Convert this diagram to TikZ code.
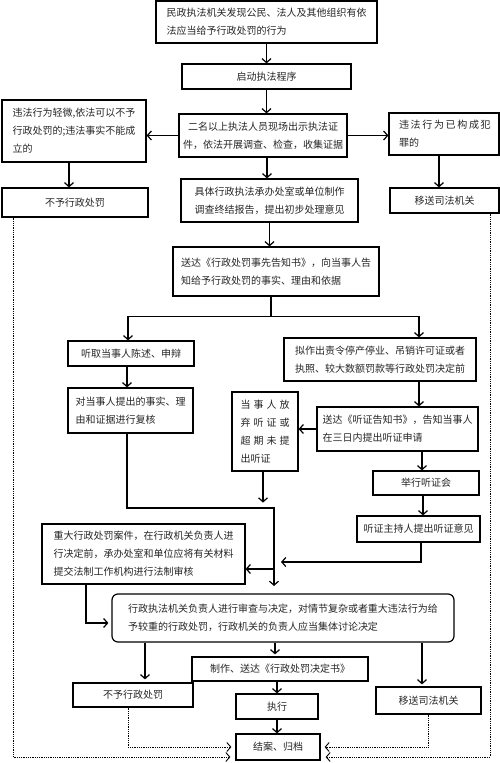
\documentclass[tikz,border=0pt]{standalone}
\usepackage{fontspec}
\setmainfont{Noto Sans CJK SC}
\usetikzlibrary{arrows.meta,calc}
\newcommand{\gx}{\hspace{3pt}}
\begin{document}
\begin{tikzpicture}[x=1pt,y=-1pt,
  box/.style={draw, line width=1.2pt, inner sep=0pt, align=left,
    font=\fontsize{10}{18}\selectfont, text=black!85},
  arr/.style={line width=1.2pt, -{Straight Barb[length=4pt,width=9pt]}},
  ln/.style={line width=1.2pt},
  dot/.style={line width=0.9pt, dash pattern=on 0.9pt off 0.9pt,
    -{Straight Barb[length=4pt,width=9pt]}}]
\useasboundingbox (0,0) rectangle (500,763);
\fill[white] (0,0) rectangle (500,763);

\node[box, minimum width=221pt, minimum height=42pt] (b1) at (266.5,22)
  {民政执法机关发现公民、法人及其他组织有依\\法应当给予行政处罚的行为};
\node[box, minimum width=169pt, minimum height=25pt] (b2) at (266.5,76.5) {启动执法程序};
\node[box, minimum width=168pt, minimum height=43pt, align=center] (b3) at (263,135.5)
  {二名以上执法人员现场出示执法证\\件，依法开展调查、检查，收集证据};
\node[box, minimum width=144pt, minimum height=62pt] (bL) at (74,131)
  {违法行为轻微,依法可以不予\\行政处罚的;违法事实不能成\\立的};
\node[box, minimum width=110pt, minimum height=42pt, text width=90pt] (bR) at (444,134)
  {违\,法\,行\,为\,已\,构\,成\,犯\\罪的};
\node[box, minimum width=146pt, minimum height=29pt] (bL2) at (75,202.5) {不予行政处罚};
\node[box, minimum width=109pt, minimum height=25pt] (bR2) at (444.5,200.5) {移送司法机关};
\node[box, minimum width=177pt, minimum height=43pt, align=center] (b4) at (269.5,200.5)
  {具体行政执法承办处室或单位制作\\调查终结报告，提出初步处理意见};
\node[box, minimum width=206pt, minimum height=49pt] (b5) at (276,271.5)
  {送达《行政处罚事先告知书》，向当事人告\\知给予行政处罚的事实、理由和依据};
\node[box, minimum width=126pt, minimum height=25pt] (b6) at (131,353.5) {听取当事人陈述、申辩};
\node[box, minimum width=192pt, minimum height=43pt] (b7) at (380,359.5)
  {拟作出责令停产停业、吊销许可证或者\\执照、较大数额罚款等行政处罚决定前};
\node[box, minimum width=125pt, minimum height=45pt] (b8) at (130.5,410.5)
  {对当事人提出的事实、理\\由和证据进行复核};
\node[box, minimum width=161pt, minimum height=44pt] (b9) at (397.5,429)
  {送达《听证告知书》，告知当事人\\在三日内提出听证申请};
\node[box, minimum width=66pt, minimum height=79pt] (b10) at (265,431.5)
  {当\gx 事\gx 人\gx 放\\弃\gx 听\gx 证\gx 或\\超\gx 期\gx 未\gx 提\\出听证};
\node[box, minimum width=106pt, minimum height=24pt] (b11) at (426,483) {举行听证会};
\node[box, minimum width=123pt, minimum height=26pt] (b12) at (418.5,529) {听证主持人提出听证意见};
\node[box, minimum width=203pt, minimum height=60pt] (b13) at (143.5,554)
  {重大行政处罚案件，在行政机关负责人进\\行决定前，承办处室和单位应将有关材料\\提交法制工作机构进行法制审核};
\node[box, rounded corners=6pt, minimum width=342pt, minimum height=48pt] (b14) at (283,618)
  {行政执法机关负责人进行审查与决定，对情节复杂或者重大违法行为给\\予较重的行政处罚，行政机关的负责人应当集体讨论决定};
\node[box, minimum width=176pt, minimum height=24pt] (b15) at (280,669) {制作、送达《行政处罚决定书》};
\node[box, minimum width=120pt, minimum height=24pt] (b16) at (133,695) {不予行政处罚};
\node[box, minimum width=105pt, minimum height=27pt] (b17) at (428.5,700.5) {移送司法机关};
\node[box, minimum width=82pt, minimum height=25pt] (b18) at (277,706.5) {执行};
\node[box, minimum width=84pt, minimum height=26pt] (b19) at (278,747) {结案、归档};

% connectors
\draw[arr] (b1.south) -- (b2.north);
\draw[arr] (b2.south) -- (b2.south |- b3.north);
\draw[arr] (b3.west) -- (b3.west -| bL.east);
\draw[arr] (b3.east) -- (b3.east -| bR.west);
\coordinate (pL) at ([xshift=-5pt]bL.south);
\draw[arr] (pL) -- (pL |- bL2.north);
\coordinate (pR) at ([xshift=-5pt]bR.south);
\draw[arr] (pR) -- (pR |- bR2.north);
\coordinate (p3) at ([xshift=4pt]b3.south);
\draw[arr] (p3) -- (p3 |- b4.north);
\draw[arr] (b4.south) -- (b4.south |- b5.north);
\coordinate (p5) at ([xshift=-5pt]b5.south);
\coordinate (split) at ([yshift=-20pt]p5);
\draw[ln] (p5) -- (split);
\coordinate (t6) at ([xshift=-3pt]b6.north);
\draw[arr] (split) -| (t6);
\coordinate (t7) at ([xshift=39pt]b7.north);
\draw[arr] (split) -| (t7);
\coordinate (p6) at ([xshift=-4pt]b6.south);
\draw[arr] (p6) -- (p6 |- b8.north);
\coordinate (p7) at ([xshift=39pt]b7.south);
\draw[arr] (p7) -- (p7 |- b9.north);
\draw[arr] (b9.west) -- (b9.west -| b10.east);
\coordinate (p9) at ([xshift=24.5pt]b9.south);
\draw[arr] (p9) -- (p9 |- b11.north);
\coordinate (p11) at ([xshift=-3pt]b11.south);
\draw[arr] (p11) -- (p11 |- b12.north);
\coordinate (p10) at ([xshift=-2pt]b10.south);
\coordinate (e10) at ([yshift=-31pt]p10);
\draw[arr] (p10) -- (e10);
\coordinate (p8) at ([xshift=-3.5pt]b8.south);
\coordinate (m1) at (274,508);
\coordinate (m2) at (274,586);
\draw[arr] (p8) |- (m1) -- (m2);
\coordinate (p12) at ([xshift=2.5pt]b12.south);
\coordinate (e12) at (281,562);
\draw[arr] (p12) |- (e12);
\coordinate (m3) at (274,569);
\draw[arr] (m3) -- (m3 -| b13.east);
\coordinate (p13) at ([xshift=-57.5pt]b13.south);
\coordinate (t14) at ([yshift=-5pt]b14.west);
\draw[arr, shorten >=3pt] (p13) |- (t14);
\coordinate (t16) at ([xshift=12pt]b16.north);
\draw[arr, shorten >=3pt] (b14.south -| t16) -- (t16);
\coordinate (t15) at ([xshift=-5pt]b15.north);
\draw[arr, shorten >=2pt] (b14.south -| t15) -- (t15);
\coordinate (t17) at ([xshift=-6.5pt]b17.north);
\draw[arr, shorten >=2pt] (b14.south -| t17) -- (t17);
\draw[arr] (b18.north |- b15.south) -- (b18.north);
\draw[arr] (b18.south) -- (b18.south |- b19.north);

% dotted
\coordinate (q1) at ([xshift=-62pt]bL2.south);
\draw[dot, shorten >=5pt] (q1) |- ([yshift=-10pt]b19.west);
\coordinate (q2) at ([xshift=-5pt]b16.south);
\draw[dot, shorten >=4pt] (q2) |- (b19.west);
\draw[dot, shorten >=4pt] (b17.south) |- (b19.east);
\coordinate (q4) at ([xshift=45.5pt]bR2.south);
\draw[dot, shorten >=5pt] (q4) |- ([yshift=-10pt]b19.east);
\end{tikzpicture}
\end{document}
